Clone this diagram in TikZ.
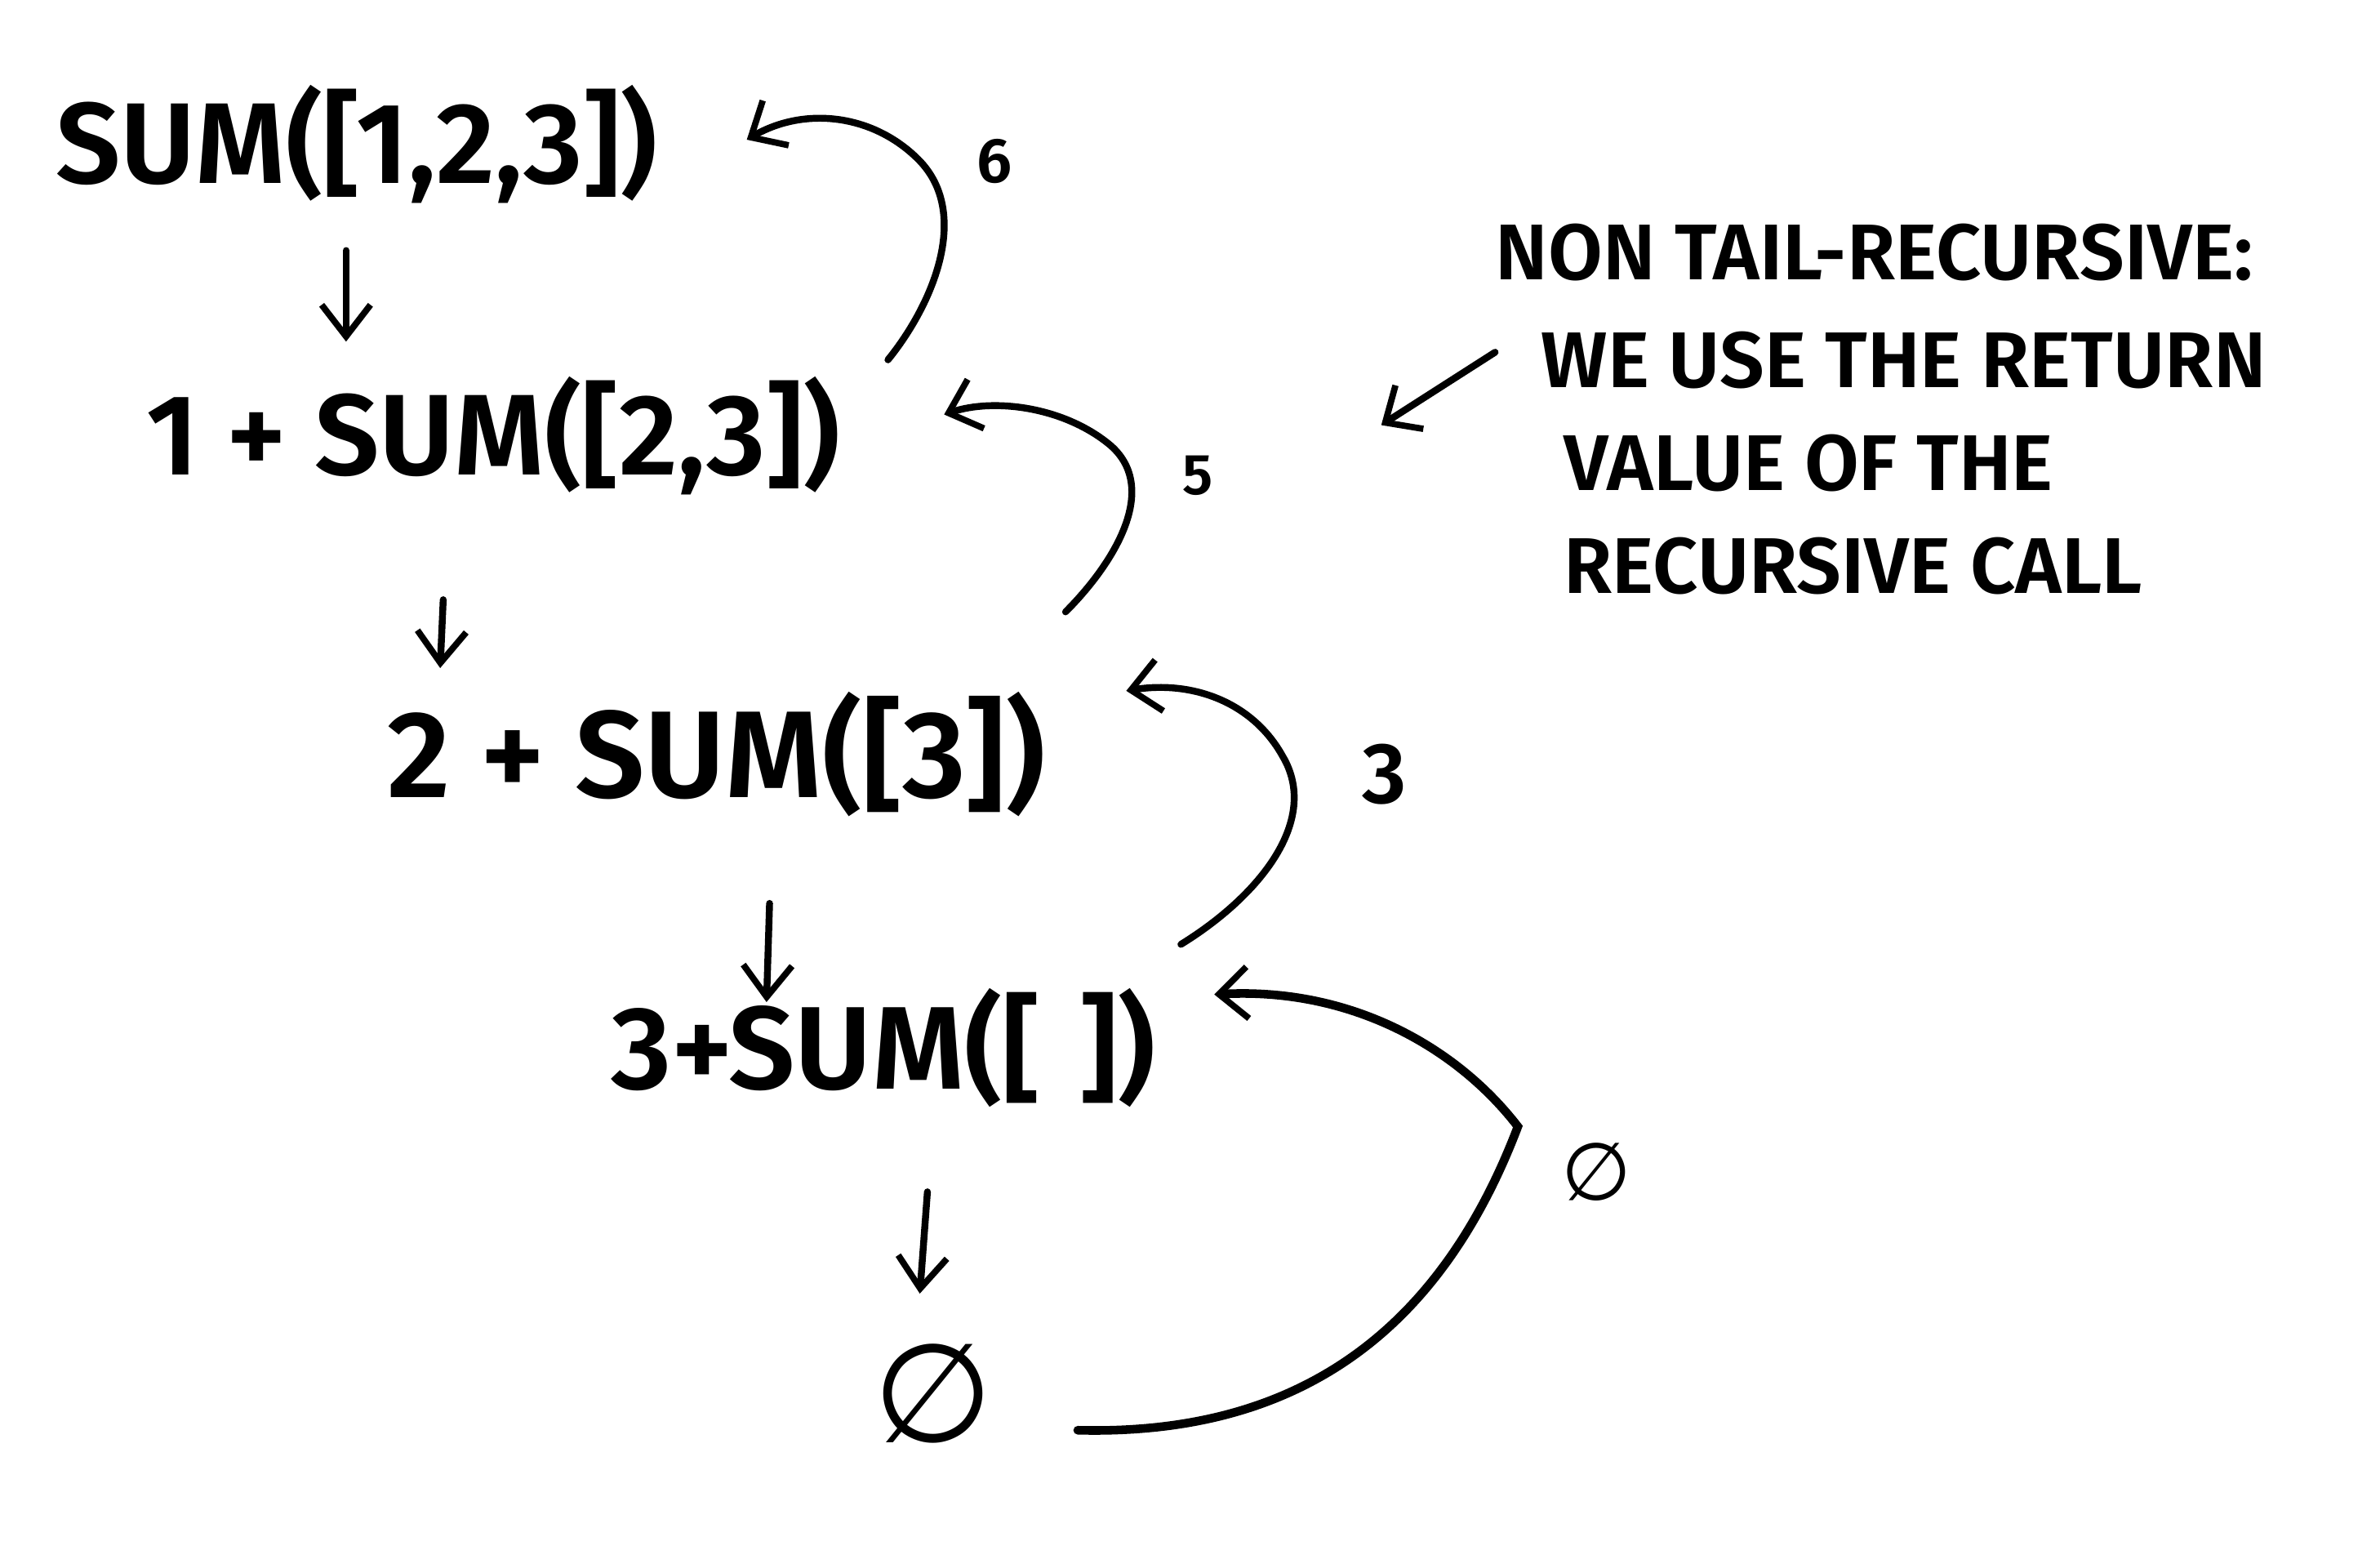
\documentclass[tikz,border=0pt]{standalone}
\usepackage{fontspec}
\setmainfont{Fira Sans}[BoldFont={Fira Sans SemiBold}]
\newfontfamily\symfont{DejaVu Sans}
\usetikzlibrary{arrows.meta}
\tikzset{
  expr/.style={inner sep=0pt, anchor=center, font=\fontsize{40}{42}\selectfont\bfseries},
  note/.style={inner sep=0pt, anchor=west, font=\fontsize{27.5}{29}\selectfont\bfseries},
  lbl/.style={inner sep=0pt, anchor=center},
  down/.style={line width=2.4pt, line cap=round, -{Straight Barb[length=11pt,width=17pt,line width=2.2pt]}},
  ret/.style={line width=2.4pt, line cap=round, -{Straight Barb[length=10pt,width=18pt,line width=2.2pt]}},
}
\begin{document}
\begin{tikzpicture}[x=0.01859cm, y=-0.01859cm]
\useasboundingbox (0,0) rectangle (1568,1018);
% expressions
\node[expr] (n1) at (235,95) {SUM([1,2,3])};
\node[expr] (n2) at (325,287) {1 + SUM([2,3])};
\node[expr, font=\fontsize{43}{45}\selectfont\bfseries] (n3) at (472,497) {2 + SUM([3])};
\node[expr, font=\fontsize{41}{43}\selectfont\bfseries] (n4) at (582,690) {3+SUM([\,\,])};
\node[expr, font=\fontsize{48}{50}\selectfont\symfont] (n5) at (615,918) {∅};
% down arrows
\coordinate (d1a) at (228,165); \coordinate (d1b) at (228,225);
\coordinate (d2a) at (292,395); \coordinate (d2b) at (290,440);
\coordinate (d3a) at (507,595); \coordinate (d3b) at (505,660);
\coordinate (d4a) at (611,785); \coordinate (d4b) at (606,852);
\draw[down] (d1a) -- (d1b);
\draw[down] (d2a) -- (d2b);
\draw[down] (d3a) -- (d3b);
\draw[down] (d4a) -- (d4b);
% return arcs
\coordinate (s6) at (585,237); \coordinate (e6) at (492,92);
\coordinate (s5) at (702,403); \coordinate (e5) at (622,273);
\coordinate (s3) at (778,622); \coordinate (e3) at (742,455);
\coordinate (s0) at (710,942); \coordinate (e0) at (800,655);
\draw[ret] (s6) .. controls (615,200) and (640,140) .. (605,105) .. controls (575,75) and (530,70) .. (e6);
\draw[ret] (s5) .. controls (735,370) and (765,320) .. (730,292) .. controls (700,268) and (655,262) .. (e5);
\draw[ret] (s3) .. controls (830,590) and (870,540) .. (845,498) .. controls (825,462) and (785,448) .. (e3);
\draw[ret, line width=3pt] (s0) .. controls (830,945) and (940,900) .. (1000,742) .. controls (960,690) and (890,650) .. (e0);
% labels
\node[lbl, font=\fontsize{22}{24}\selectfont\bfseries] (l6) at (655,106) {6};
\node[lbl, font=\fontsize{20}{22}\selectfont\bfseries] (l5) at (789,313) {5};
\node[lbl, font=\fontsize{30}{32}\selectfont\bfseries] (l3) at (912,510) {3};
\node[lbl, font=\fontsize{28}{30}\selectfont\symfont] (l0) at (1052,772) {∅};
% note
\node[note] (t1) at (985,166) {NON TAIL-RECURSIVE:};
\node[note] (t2) at (1015,237) {WE USE THE RETURN};
\node[note] (t3) at (1030,305) {VALUE OF THE};
\node[note] (t4) at (1030,373) {RECURSIVE CALL};
\coordinate (na) at (985,232); \coordinate (nb) at (910,280);
\draw[ret] (na) -- (nb);
\end{tikzpicture}
\end{document}
